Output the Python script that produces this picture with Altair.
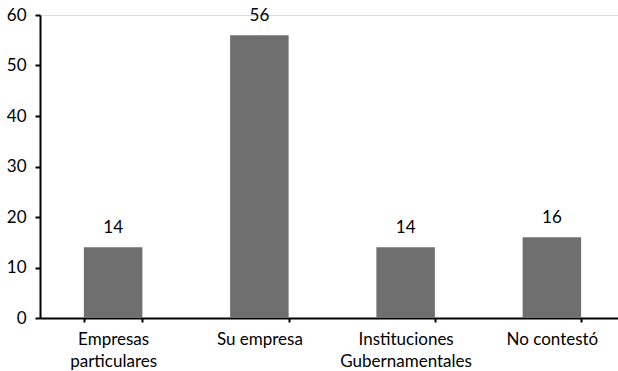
import altair as alt
import pandas as pd

# Survey responses by category
categories = ["Empresas|particulares", "Su empresa", "Instituciones|Gubernamentales", "No contestó"]
values = [14, 56, 14, 16]

df = pd.DataFrame({"categoria": categories, "valor": values})

FONT = "Lato"

x_enc = alt.X(
    "categoria:N",
    sort=categories,
    title=None,
    scale=alt.Scale(range=[0, 585], paddingInner=0.6, paddingOuter=0.3),
    axis=alt.Axis(
        labelExpr="split(datum.label, '|')",
        labelAngle=0,
        labelFont=FONT,
        labelFontSize=17,
        labelColor="#000000",
        labelPadding=9,
        labelLineHeight=22,
        labelBaseline="top",
        tickBand="extent",
        tickSize=4,
        tickWidth=2,
        tickColor="#000000",
        domainColor="#000000",
        domainWidth=2,
        grid=False,
    ),
)

bars = alt.Chart(df).mark_bar(color="#6f6f6f").encode(
    x=x_enc,
    y=alt.Y(
        "valor:Q",
        title=None,
        scale=alt.Scale(domain=[0, 60], nice=False),
        axis=alt.Axis(
            values=[0, 10, 20, 30, 40, 50, 60],
            labelFont=FONT,
            labelFontSize=17,
            labelColor="#000000",
            labelPadding=9,
            tickSize=5,
            tickWidth=2,
            tickColor="#000000",
            domainColor="#000000",
            domainWidth=2,
            grid=False,
        ),
    ),
)

labels = alt.Chart(df).mark_text(
    font=FONT, fontSize=17, color="#000000", baseline="bottom", dy=-10
).encode(
    x=alt.X("categoria:N", sort=categories),
    y="valor:Q",
    text="valor:Q",
)

chart = (
    alt.layer(bars, labels)
    .properties(
        width=578,
        height=303,
        autosize=alt.AutoSizeParams(type="none"),
        padding={"left": 40, "top": 15, "right": 0, "bottom": 53},
    )
    .configure_view(stroke=None)
    .configure(background="white")
)

chart.save("out.html", embed_options={"renderer": "svg", "actions": False})
